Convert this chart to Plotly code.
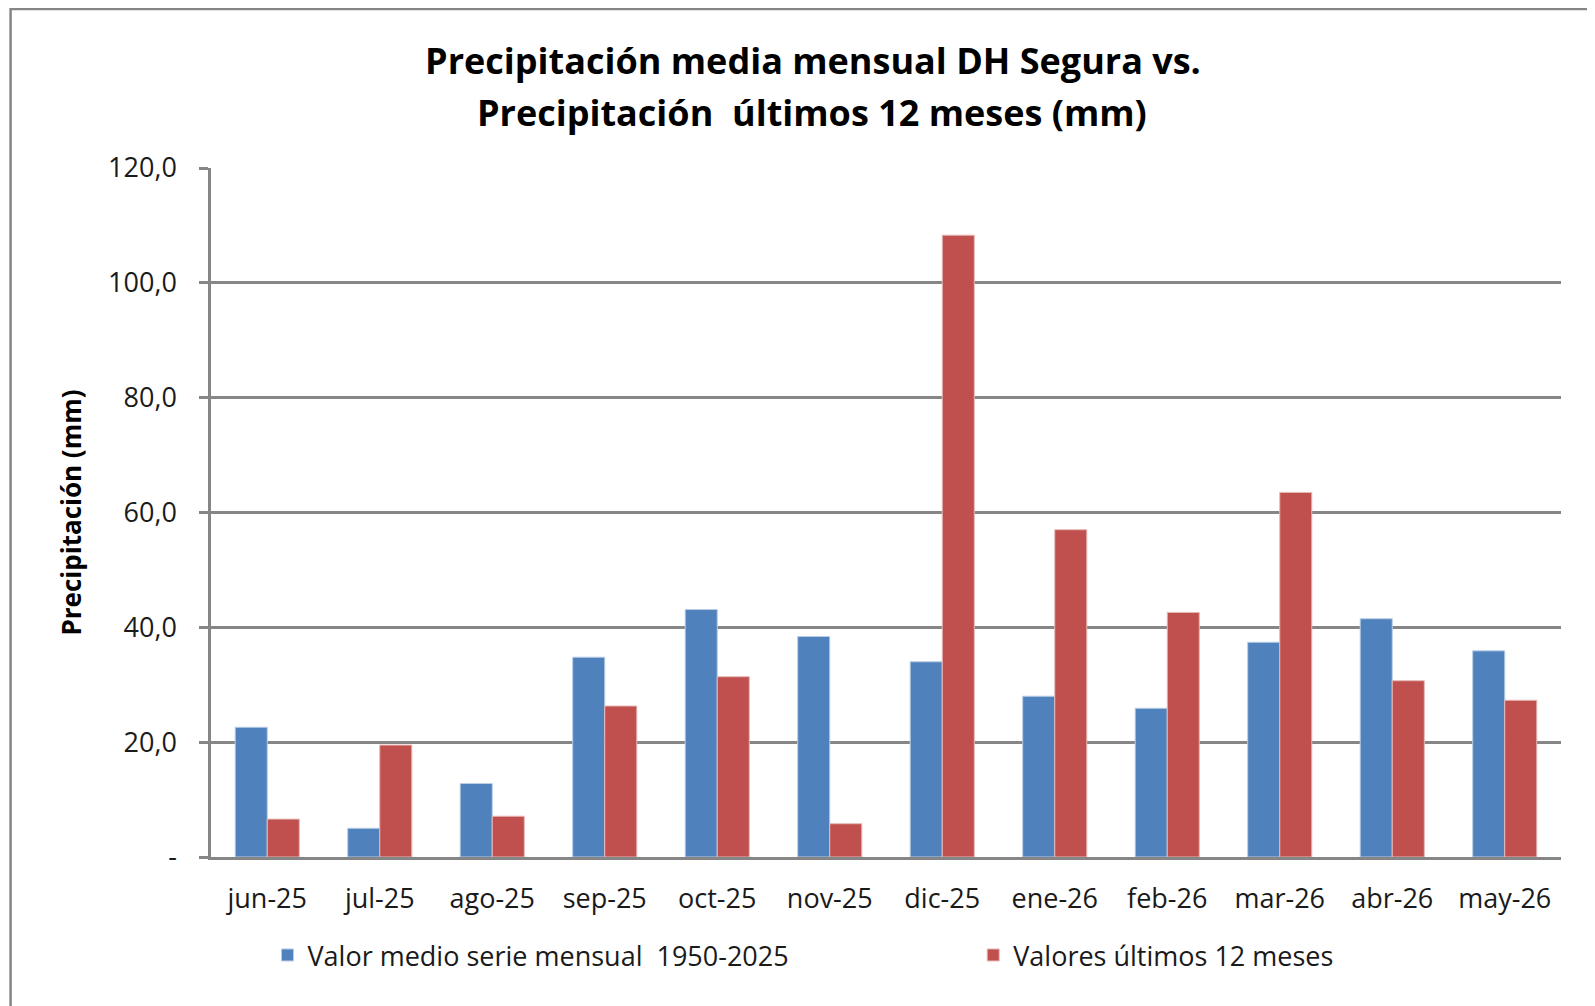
import plotly.graph_objects as go

# meses del periodo
meses = ["jun-25", "jul-25", "ago-25", "sep-25", "oct-25", "nov-25",
         "dic-25", "ene-26", "feb-26", "mar-26", "abr-26", "may-26"]

# precipitacion media mensual 1950-2025 (mm)
valor_medio = [22.6, 5.0, 12.8, 34.8, 43.1, 38.4, 34.0, 28.0, 25.9, 37.4, 41.5, 35.9]

# precipitacion de los ultimos 12 meses (mm)
ultimos_12 = [6.6, 19.5, 7.1, 26.3, 31.4, 5.8, 108.3, 57.0, 42.6, 63.5, 30.7, 27.3]

y_ticks = [0, 20, 40, 60, 80, 100, 120]
y_tick_text = ["-", "20,0", "40,0", "60,0", "80,0", "100,0", "120,0"]

FONT = "Open Sans"
GRIS = "#868686"

# the page body adds an 8px offset, so the figure is 8px smaller
W, H = 1587, 998
L, R, T, B = 202.5, 34, 160, 148.5
pw, ph = W - L - R, H - T - B

fig = go.Figure()
fig.add_trace(go.Bar(x=meses, y=valor_medio, name="Valor medio serie mensual  1950-2025",
                     marker=dict(color="#4F81BD", line=dict(color="#B9CDE5", width=1)),
                     legend="legend"))
fig.add_trace(go.Bar(x=meses, y=ultimos_12, name="Valores últimos 12 meses",
                     marker=dict(color="#C0504D", line=dict(color="#E6B9B8", width=1)),
                     legend="legend2"))

legend_font = dict(family=FONT, size=27, color="#1a1a1a")
fig.update_layout(
    width=W, height=H,
    margin=dict(l=L, r=R, t=T, b=B),
    paper_bgcolor="white", plot_bgcolor="white",
    font=dict(family=FONT, size=27, color="#1a1a1a"),
    barmode="group", bargap=0.43, bargroupgap=0,
    title=dict(text="<b>Precipitación media mensual DH Segura vs.</b>",
               font=dict(family=FONT, size=36, color="black"),
               x=805 / W, xanchor="center", xref="container",
               y=1 - 53 / H, yanchor="middle", yref="container"),
    legend=dict(x=(259 - L) / pw, xanchor="left", y=(ph - (948 - T)) / ph, yanchor="middle",
                font=legend_font),
    legend2=dict(x=(965 - L) / pw, xanchor="left", y=(ph - (948 - T)) / ph, yanchor="middle",
                 font=legend_font),
    showlegend=True,
)

fig.add_annotation(text="<b>Precipitación  últimos 12 meses (mm)</b>",
                   xref="paper", yref="paper", x=(804 - L) / pw,
                   y=(ph - (104 - T)) / ph, xanchor="center", yanchor="middle",
                   showarrow=False, font=dict(family=FONT, size=36, color="black"))

fig.update_yaxes(range=[0, 120], tickvals=y_ticks, ticktext=y_tick_text,
                 showgrid=True, gridcolor=GRIS, gridwidth=2.5,
                 showline=True, linecolor=GRIS, linewidth=2.5,
                 ticks="outside", ticklen=9, tickcolor=GRIS, tickwidth=2.5,
                 ticklabelstandoff=17, zeroline=False,
                 title=dict(text="<b>Precipitación (mm)</b>", standoff=19,
                            font=dict(family=FONT, size=26, color="black")))
fig.update_xaxes(showline=True, linecolor=GRIS, linewidth=2.5, ticks="",
                 ticklabelstandoff=16, showgrid=False)

# borde del grafico
fig.add_shape(type="rect", xref="paper", yref="paper",
              x0=(2 - L) / pw, x1=1.2, y0=-0.4, y1=(ph - (1 - T)) / ph,
              line=dict(color=GRIS, width=2.5), layer="below")

fig.write_html("out.html")
